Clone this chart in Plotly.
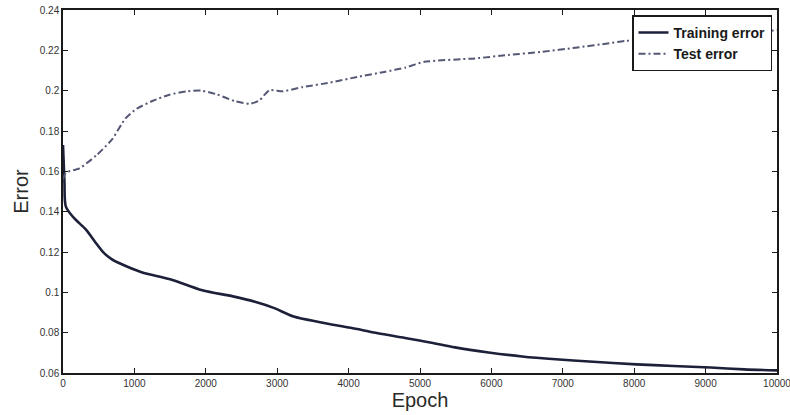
import plotly.graph_objects as go

# Training error curve (epoch, error)
train_epoch = [0, 20, 40, 150, 325, 450, 565, 680, 800, 1100, 1500, 1950, 2380, 2700, 2950,
               3230, 3600, 4030, 4410, 4790, 5160, 5490, 5960, 6430, 6900, 7370, 8030, 8550,
               9070, 9540, 10000]
train_error = [0.173, 0.155, 0.1425, 0.137, 0.131, 0.125, 0.1198, 0.1165, 0.1143, 0.110,
               0.1065, 0.101, 0.098, 0.0952, 0.0923, 0.088, 0.0852, 0.0824, 0.0797, 0.0774,
               0.0750, 0.0727, 0.0702, 0.0682, 0.0668, 0.0657, 0.0643, 0.0635, 0.0627,
               0.0618, 0.0613]

# Test error curve (epoch, error)
test_epoch = [0, 40, 230, 470, 690, 870, 1030, 1260, 1490, 1750, 1940, 2150, 2410, 2620,
              2750, 2890, 3080, 3360, 3740, 4120, 4500, 4800, 5060, 5770, 6240, 6710,
              7180, 7650, 7890, 8500, 9200, 10000]
test_error = [0.156, 0.1593, 0.1615, 0.168, 0.176, 0.186, 0.191, 0.195, 0.198, 0.1997,
              0.2, 0.1982, 0.1948, 0.1935, 0.1952, 0.2002, 0.1997, 0.2018, 0.204, 0.2068,
              0.2093, 0.2115, 0.2143, 0.216, 0.2177, 0.2193, 0.2213, 0.2235, 0.2247,
              0.226, 0.228, 0.230]

x_ticks = [0, 1000, 2000, 3000, 4000, 5000, 6000, 7000, 8000, 9000, 10000]
x_labels = ["0", "1000", "2000", "3000", "4000", "5000", "6000", "7000", "8000", "9000", "10000"]
y_ticks = [0.06, 0.08, 0.1, 0.12, 0.14, 0.16, 0.18, 0.2, 0.22, 0.24]
y_labels = ["0.06", "0.08", "0.1", "0.12", "0.14", "0.16", "0.18", "0.2", "0.22", "0.24"]

fig = go.Figure()
fig.add_trace(go.Scatter(x=train_epoch, y=train_error, mode="lines", name="Training error",
                         line=dict(color="#1c2038", width=2.6, shape="spline", smoothing=0.8)))
fig.add_trace(go.Scatter(x=test_epoch, y=test_error, mode="lines", name="Test error",
                         line=dict(color="#555874", width=2.0, dash="7px,3px,2px,3px",
                                   shape="spline", smoothing=0.6)))

axis_common = dict(showgrid=False, zeroline=False, showline=True, linecolor="#1a1a1a",
                   linewidth=1.5, mirror="ticks", ticks="inside", ticklen=5,
                   tickcolor="#1a1a1a", automargin=False, ticklabeloverflow="allow",
                   tickfont=dict(family="Liberation Sans", size=10, color="#333"))

fig.update_xaxes(range=[0, 10000], tickvals=x_ticks, ticktext=x_labels,
                 title=dict(text="Epoch", font=dict(family="Liberation Sans", size=20,
                                                     color="#2a2a2a"), standoff=2),
                 **axis_common)
fig.update_yaxes(range=[0.06, 0.24], tickvals=y_ticks, ticktext=y_labels,
                 title=dict(text="Error", font=dict(family="Liberation Sans", size=20,
                                                     color="#2a2a2a"), standoff=6),
                 **axis_common)

fig.update_layout(
    width=790, height=415,
    margin=dict(l=63, r=13, t=10, b=42, autoexpand=False),
    plot_bgcolor="white", paper_bgcolor="white",
    legend=dict(x=0.993, y=0.985, xanchor="right", yanchor="top",
                bgcolor="white", bordercolor="#1a1a1a", borderwidth=1.5,
                font=dict(family="Liberation Sans", size=14, color="#1a1a1a", weight="bold"),
                tracegroupgap=0, itemwidth=30),
    showlegend=True,
)

fig.write_html("out.html", config={"displayModeBar": False},
               post_script="document.body.style.margin='0';document.body.style.overflow='hidden';")
